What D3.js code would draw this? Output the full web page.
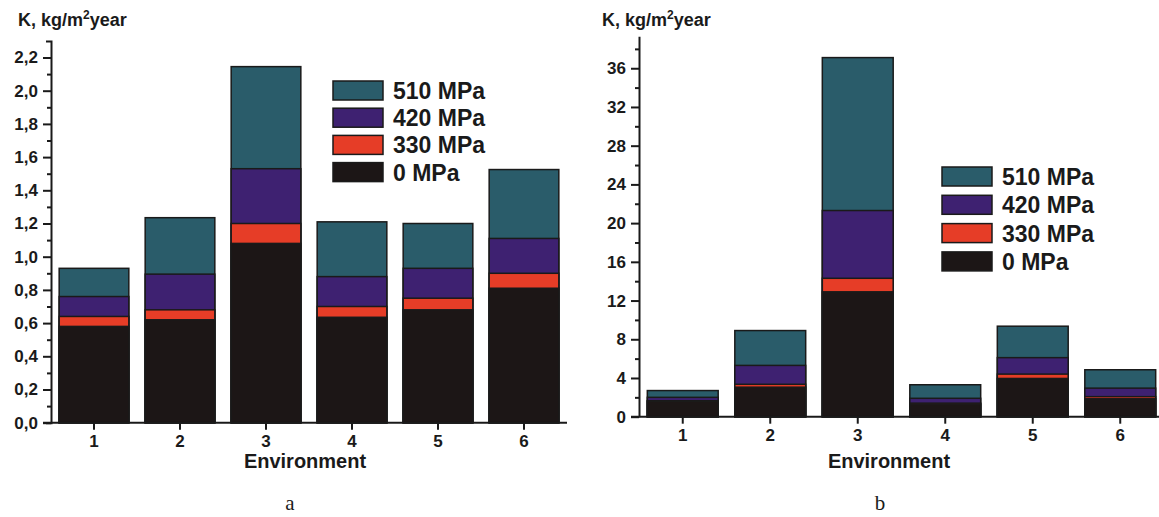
<!DOCTYPE html>
<html>
<head>
<meta charset="utf-8">
<script src="https://cdn.jsdelivr.net/npm/d3@7"></script>
<style>
  body { margin: 0; background: #fff; }
  text { font-family: "Liberation Sans", Arial, sans-serif; font-weight: bold; fill: #1a1a1a; }
  .cap { font-family: "Liberation Serif", "Times New Roman", serif; font-weight: normal; }
</style>
</head>
<body>
<svg id="chart" width="1159" height="517"></svg>
<script>
// 環境（カテゴリ）
var environments = ["1", "2", "3", "4", "5", "6"];
// 凡例の系列名（奥から手前の順）
var seriesNames = ["510 MPa", "420 MPa", "330 MPa", "0 MPa"];
var seriesColors = ["#2a5c6a", "#3e2171", "#e63d27", "#1c1616"];
// (a) のK値
var valuesA = {
  "510 MPa": [0.93, 1.235, 2.145, 1.21, 1.20, 1.525],
  "420 MPa": [0.76, 0.895, 1.53, 0.88, 0.93, 1.11],
  "330 MPa": [0.64, 0.68, 1.20, 0.70, 0.75, 0.90],
  "0 MPa":   [0.58, 0.62, 1.08, 0.635, 0.68, 0.81]
};
// (b) のK値
var valuesB = {
  "510 MPa": [2.7, 8.9, 37.1, 3.3, 9.35, 4.85],
  "420 MPa": [2.0, 5.3, 21.3, 1.9, 6.1, 2.95],
  "330 MPa": [1.65, 3.35, 14.3, 1.4, 4.4, 2.07],
  "0 MPa":   [1.6, 3.05, 12.9, 1.3, 3.95, 1.85]
};
// 目盛り
var ticksA = [0, 0.2, 0.4, 0.6, 0.8, 1.0, 1.2, 1.4, 1.6, 1.8, 2.0, 2.2];
var minorA = [0.1, 0.3, 0.5, 0.7, 0.9, 1.1, 1.3, 1.5, 1.7, 1.9, 2.1];
var ticksB = [0, 4, 8, 12, 16, 20, 24, 28, 32, 36];
var minorB = [2, 6, 10, 14, 18, 22, 26, 30, 34, 38];

var svg = d3.select("#chart");

function drawPanel(p) {
  var x = d3.scaleBand().domain(environments).range([p.x0, p.x1])
    .paddingInner(0.19).paddingOuter(0.095);
  var y = d3.scaleLinear().domain([0, p.yMax]).range([p.y0, p.yTop]);
  var g = svg.append("g");

  // 棒（奥の系列から順に重ねる）
  seriesNames.forEach(function(name, si) {
    g.selectAll(null)
      .data(p.values[name])
      .enter()
      .append("rect")
      .attr("x", function(d, i) { return x(environments[i]); })
      .attr("y", function(d) { return y(d); })
      .attr("width", x.bandwidth())
      .attr("height", function(d) { return y(0) - y(d); })
      .attr("fill", seriesColors[si])
      .attr("stroke", "#1a1a1a")
      .attr("stroke-width", 1.5);
  });

  // Y軸
  g.append("g").attr("transform", "translate(" + p.x0 + ",0)")
    .call(d3.axisLeft(y).tickValues(p.ticks).tickSize(8).tickSizeOuter(p.outer)
      .tickPadding(5).tickFormat(p.fmt));
  g.append("g").attr("transform", "translate(" + p.x0 + ",0)")
    .call(d3.axisLeft(y).tickValues(p.minor).tickSize(4).tickSizeOuter(0).tickFormat(""))
    .select(".domain").remove();

  // X軸
  var xAxis = g.append("g").attr("transform", "translate(0," + p.y0 + ")")
    .call(d3.axisBottom(x).tickSize(7).tickSizeOuter(0).tickPadding(5));
  xAxis.select(".domain").attr("d", "M" + (p.x0 - 8) + ",0H" + p.x1);

  g.selectAll(".domain, .tick line").attr("stroke", "#1a1a1a").attr("stroke-width", 2);
  g.selectAll(".tick text").attr("fill", "#1a1a1a")
    .style("font-size", "17px").style("font-family", "Liberation Sans, Arial").style("font-weight", "bold");

  // 軸タイトル
  var t = g.append("text").attr("x", p.titleX).attr("y", 26).attr("font-size", 18);
  t.append("tspan").text("K, kg/m");
  t.append("tspan").attr("font-size", 12).attr("dy", -7).text("2");
  t.append("tspan").attr("dy", 7).text("year");
  g.append("text").attr("x", p.envX).attr("y", 468).attr("text-anchor", "middle")
    .attr("font-size", 20).text("Environment");

  // 凡例
  var lg = g.selectAll(".lg").data(seriesNames).enter().append("g")
    .attr("transform", function(d, i) { return "translate(" + p.lgX + "," + (p.lgY + i * p.lgStep) + ")"; });
  lg.append("rect").attr("width", 50).attr("height", 19)
    .attr("fill", function(d, i) { return seriesColors[i]; })
    .attr("stroke", "#1a1a1a").attr("stroke-width", 1.5);
  lg.append("text").attr("x", 60).attr("y", 18).attr("font-size", 23).text(function(d) { return d; });

  g.append("text").attr("class", "cap").attr("x", p.capX).attr("y", 510)
    .attr("text-anchor", "middle").attr("font-size", 21).text(p.cap);
}

drawPanel({
  values: valuesA, x0: 51, x1: 567, y0: 422.7, yTop: 40.9, yMax: 2.3,
  ticks: ticksA, minor: minorA, outer: 5,
  fmt: function(d) { return d3.format(".1f")(d).replace(".", ","); },
  titleX: 18, envX: 305, lgX: 333, lgY: 81, lgStep: 27.2, capX: 290, cap: "a"
});
drawPanel({
  values: valuesB, x0: 639, x1: 1164, y0: 416.7, yTop: 36.3, yMax: 39.3,
  ticks: ticksB, minor: minorB, outer: 0,
  fmt: d3.format("d"),
  titleX: 602, envX: 889, lgX: 942, lgY: 167, lgStep: 28.3, capX: 880, cap: "b"
});
</script>
</body>
</html>
